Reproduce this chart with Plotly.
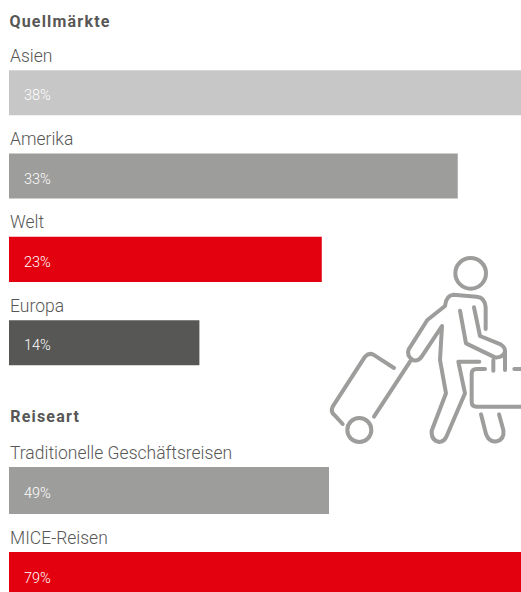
import re
import plotly.graph_objects as go

WIDTH, HEIGHT = 521, 592

market_names = ["Asien", "Amerika", "Welt", "Europa"]
market_values = [38, 33, 23, 14]
market_colors = ["#c6c7c6", "#9d9d9c", "#e3000f", "#575756"]

trip_names = ["Traditionelle Geschäftsreisen", "MICE-Reisen"]
trip_values = [49, 79]
trip_colors = ["#9d9d9c", "#e3000f"]

TEXT = "#575756"
FONT = "Roboto"

# Traveller pictogram, in page pixels x3 relative to its origin
ICON_ORIGIN = (320, 250)
ICON_PATHS = [
    "M497 237 L497 172 Q495 142 470 140 L400 134 Q378 136 375 168 L322 210 L266 298 Q258 318 280 331 Q296 334 305 320 L366 228 L360 330 L378 430 L335 542 Q333 572 358 576 Q374 574 380 558 L435 430 L415 335 L478 335",
    "M420 182 L438 280 L525 322 Q548 324 555 305 Q556 292 542 283 L480 258 L462 172",
    "M520 330 L520 362",
    "M555 305 L555 360",
    "M495 357 L470 357 Q455 357 455 372 L455 455 Q455 470 470 470 L603 470",
    "M583 357 L603 357",
    "M483 493 L498 552 Q508 578 530 574 Q554 568 550 540 L537 493",
    "M270 335 L162 500",
    "M222 354 L160 314 Q148 307 135 320 L38 470 Q30 486 45 497 L68 522",
]
ICON_CIRCLES = [(452, 70, 46), (118, 540, 36)]


def to_paper(px, py):
    return (ICON_ORIGIN[0] + px / 3) / WIDTH, 1 - (ICON_ORIGIN[1] + py / 3) / HEIGHT


def icon_path(path):
    def repl(match):
        x, y = to_paper(float(match.group(1)), float(match.group(2)))
        return f"{x:.5f} {y:.5f}"
    return re.sub(r"(-?\d+(?:\.\d+)?) (-?\d+(?:\.\d+)?)", repl, path)


fig = go.Figure()
fig.add_trace(go.Bar(
    x=market_values, y=market_names, orientation="h", width=0.54,
    marker=dict(color=market_colors, line_width=0), xaxis="x", yaxis="y",
    hoverinfo="skip",
))
fig.add_trace(go.Bar(
    x=trip_values, y=trip_names, orientation="h", width=0.553,
    marker=dict(color=trip_colors, line_width=0), xaxis="x2", yaxis="y2",
    hoverinfo="skip",
))

annotations = []


def add_labels(names, values, xref, yref, label_shift):
    for name, value in zip(names, values):
        annotations.append(dict(
            x=0, y=name, xref=xref, yref=yref, text=name, showarrow=False,
            xanchor="left", yanchor="bottom", yshift=label_shift, xshift=-1,
            font=dict(family=FONT, size=17.5, color=TEXT, weight=300),
        ))
        annotations.append(dict(
            x=0, y=name, xref=xref, yref=yref, text=f"{value}%", showarrow=False,
            xanchor="left", yanchor="middle", xshift=13, yshift=-3,
            font=dict(family=FONT, size=14.5, color="#ffffff", weight=300),
        ))


add_labels(market_names, market_values, "x", "y", 25)
add_labels(trip_names, trip_values, "x2", "y2", 26)

for title, left, top in (("Quellmärkte", 13.6, 10), ("Reiseart", 12.8, 405)):
    annotations.append(dict(
        x=left / WIDTH, y=1 - top / HEIGHT, xref="paper", yref="paper", text=title,
        showarrow=False, xanchor="left", yanchor="top",
        font=dict(family=FONT, size=16, color=TEXT, weight=700),
    ))

shapes = [dict(type="path", path=icon_path(p), xref="paper", yref="paper",
               line=dict(color="#9d9d9c", width=4), fillcolor="rgba(0,0,0,0)", layer="above")
          for p in ICON_PATHS]
for cx, cy, r in ICON_CIRCLES:
    x0, y0 = to_paper(cx - r, cy + r)
    x1, y1 = to_paper(cx + r, cy - r)
    shapes.append(dict(type="circle", xref="paper", yref="paper", x0=x0, x1=x1, y0=y0, y1=y1,
                       line=dict(color="#9d9d9c", width=4), layer="above"))

axis_off = dict(visible=False, fixedrange=True)
fig.update_layout(
    width=WIDTH, height=HEIGHT, margin=dict(l=0, r=0, t=0, b=0),
    paper_bgcolor="#ffffff", plot_bgcolor="#ffffff",
    showlegend=False, annotations=annotations, shapes=shapes,
    xaxis=dict(axis_off, domain=[9 / WIDTH, 1], range=[0, 37.65], anchor="y"),
    yaxis=dict(axis_off, domain=[1 - 384.4 / HEIGHT, 1 - 51.0 / HEIGHT],
               categoryorder="array", categoryarray=market_names, range=[3.5, -0.5], anchor="x"),
    xaxis2=dict(axis_off, domain=[9 / WIDTH, 1], range=[0, 78.4], anchor="y2"),
    yaxis2=dict(axis_off, domain=[0, 1 - 448 / HEIGHT],
                categoryorder="array", categoryarray=trip_names, range=[1.194, -0.5], anchor="x2"),
)

# Round line ends on the pictogram and open up the bold section headings
page_css = """
var s = document.createElement('style');
s.textContent = '.shapelayer path{stroke-linecap:round;stroke-linejoin:round}'
  + '.annotation-text[style*="font-weight: 700"]{letter-spacing:1.2px}';
document.head.appendChild(s);
"""
fig.write_html("out.html", config={"displayModeBar": False}, post_script=page_css)
